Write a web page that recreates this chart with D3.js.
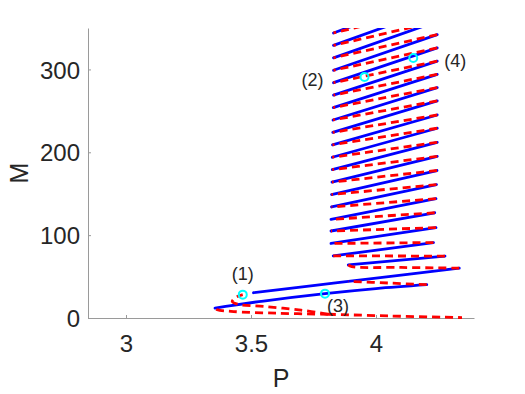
<!DOCTYPE html>
<html>
<head>
<meta charset="utf-8">
<script src="https://cdn.jsdelivr.net/npm/d3@7"></script>
<style>
  body { margin: 0; background: #fff; }
  text { font-family: "Liberation Sans", Arial, sans-serif; fill: #262626; }
</style>
</head>
<body>
<div id="chart"></div>
<script>
// data, all points are [P, M]
const trivialRed = [[3.808, 4.5], [4.05, 2.5], [4.344, 0.5]];

const branchARed1 = [[3.808, 4.5], [3.6, 5.8], [3.42, 8], [3.365, 10], [3.356, 12]];
const branchABlue1 = [[3.356, 12], [3.42, 15], [3.55, 20.5], [3.796, 29.4], [4.0, 35.5], [4.203, 40.2]];
const branchARed2 = [[4.203, 40.2], [4.05, 42.2], [3.889, 44.2]];

const branchBRed1 = [[3.808, 4.5], [3.7, 9.5], [3.55, 14], [3.45, 16.5], [3.425, 20], [3.44, 25], [3.467, 28.2]];
const branchBBlue1 = [[3.51, 30.5], [3.756, 39.4], [4.0, 48], [4.333, 60.2]];
const branchBRed2 = [[4.333, 60.2], [4.1, 61], [3.903, 62], [3.889, 64]];

// snake folds further up (left fold k -> right fold k is stable, right fold k -> left fold k+1 unstable)
const leftFoldP = [3.889, 3.829, 3.82, 3.82, 3.82, 3.822, 3.822, 3.824, 3.825, 3.825, 3.826, 3.827, 3.828, 3.829, 3.83, 3.83, 3.83, 3.83, 3.83, 3.83];
const leftFoldM = [64, 75, 90, 105, 119, 134, 149, 164, 179, 194, 209, 224, 239, 254, 269, 284, 299, 314, 329, 344];
const rightFoldP = [4.276, 4.23, 4.24, 4.235, 4.24, 4.242, 4.244, 4.245, 4.245, 4.245, 4.245, 4.245, 4.245, 4.245, 4.245, 4.245, 4.245, 4.245, 4.245, 4.245];
const rightFoldM = [74.7, 91, 109, 127, 144, 161, 178, 195, 212, 229, 245, 262, 278, 294, 310, 326, 342, 358, 374, 390];

const markers = [[3.467, 28.2], [3.954, 291], [3.796, 29.4], [4.149, 313.7]];
const markerLabels = ["(1)", "(2)", "(3)", "(4)"];

const xTicks = [3, 3.5, 4];
const yTicks = [0, 100, 200, 300];

// layout
const W = 525, H = 394;
const margin = { top: 28, right: 51, bottom: 76, left: 88 };
const width = W - margin.left - margin.right;
const height = H - margin.top - margin.bottom;
const labelOffsets = [[0, -21], [-52, 3], [13, 12], [42, 3]];

const svg = d3.select("#chart").append("svg")
  .attr("width", W).attr("height", H);

const g = svg.append("g").attr("transform", `translate(${margin.left},${margin.top})`);

const x = d3.scaleLinear().domain([2.848, 4.392]).range([0, width]);
const y = d3.scaleLinear().domain([0, 350]).range([height, 0]);

g.append("clipPath").attr("id", "clip")
  .append("rect").attr("x", -5).attr("y", 0).attr("width", width + 10).attr("height", height + 5);

// axes
const xAxis = g.append("g").attr("transform", `translate(0,${height})`)
  .call(d3.axisBottom(x).tickValues(xTicks).tickFormat(d3.format("")).tickSizeInner(-3).tickSizeOuter(0).tickPadding(17));
const yAxis = g.append("g")
  .call(d3.axisLeft(y).tickValues(yTicks).tickSizeInner(-3).tickSizeOuter(0).tickPadding(8));

[xAxis, yAxis].forEach(a => {
  a.select(".domain").attr("stroke", "#9a9a9a").attr("stroke-width", 1);
  a.selectAll(".tick line").attr("stroke", "#9a9a9a");
  a.selectAll(".tick text").attr("font-size", 24).attr("fill", "#262626")
    .style("font-family", "'Liberation Sans', Arial, sans-serif");
});
yAxis.selectAll(".tick text").attr("dy", "0.36em");

g.append("text").attr("x", width / 2).attr("y", height + 69)
  .attr("text-anchor", "middle").attr("font-size", 25).text("P");
g.append("text").attr("transform", `translate(${-60},${height / 2}) rotate(-90)`)
  .attr("text-anchor", "middle").attr("font-size", 25).text("M");

// curves
const line = d3.line().x(d => x(d[0])).y(d => y(d[1])).curve(d3.curveCatmullRom);
const plot = g.append("g").attr("clip-path", "url(#clip)");

const blueSegs = [branchABlue1, branchBBlue1];
const redSegs = [trivialRed, branchARed1, branchARed2, branchBRed1, branchBRed2];
for (let k = 0; k < leftFoldP.length; k++) {
  blueSegs.push([[leftFoldP[k], leftFoldM[k]], [rightFoldP[k], rightFoldM[k]]]);
  if (k + 1 < leftFoldP.length) {
    redSegs.push([[rightFoldP[k], rightFoldM[k]], [leftFoldP[k + 1], leftFoldM[k + 1]]]);
  }
}

plot.selectAll("path.stable").data(blueSegs).join("path")
  .attr("class", "stable")
  .attr("d", line)
  .attr("fill", "none")
  .attr("stroke", "#0000ff")
  .attr("stroke-width", 2.8)
  .attr("stroke-linecap", "round");

plot.selectAll("path.unstable").data(redSegs).join("path")
  .attr("class", "unstable")
  .attr("d", line)
  .attr("fill", "none")
  .attr("stroke", "#ff0000")
  .attr("stroke-width", 2.8)
  .attr("stroke-dasharray", "8,5");

// marked points
g.selectAll("circle.mark").data(markers).join("circle")
  .attr("class", "mark")
  .attr("cx", d => x(d[0])).attr("cy", d => y(d[1]))
  .attr("r", 4)
  .attr("fill", "none")
  .attr("stroke", "#00ffff")
  .attr("stroke-width", 2);

g.selectAll("text.mlabel").data(markers).join("text")
  .attr("class", "mlabel")
  .attr("x", (d, i) => x(d[0]) + labelOffsets[i][0])
  .attr("y", (d, i) => y(d[1]) + labelOffsets[i][1])
  .attr("dy", "0.35em")
  .attr("text-anchor", "middle")
  .attr("font-size", 18)
  .text((d, i) => markerLabels[i]);
</script>
</body>
</html>
